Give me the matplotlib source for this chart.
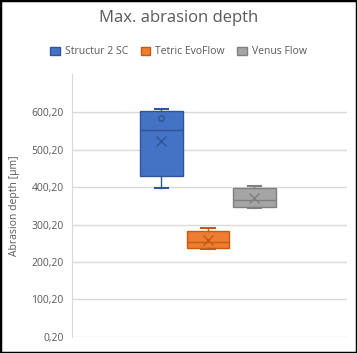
import matplotlib
matplotlib.use("Agg")
import matplotlib.pyplot as plt
from matplotlib.patches import Patch, Rectangle

plt.rcParams['font.family'] = ['Open Sans', 'DejaVu Sans']

# box plot data
series = ["Structur 2 SC", "Tetric EvoFlow", "Venus Flow"]
whis_lo = [399, 236, 345]
q1 = [429, 237, 348]
median = [552, 254, 366]
q3 = [604, 284, 397]
whis_hi = [610, 290, 404]
means = [525, 259, 371]
inner_pts = [[586], [], []]

yticks = [0.2, 100.2, 200.2, 300.2, 400.2, 500.2, 600.2]

face = ["#4472C4", "#ED7D31", "#A5A5A5"]
edge = ["#2F5597", "#C55A11", "#7F7F7F"]
text_col = "#595959"
grid_col = "#D9D9D9"

W, H = 357, 353
fig = plt.figure(figsize=(W / 100, H / 100), dpi=100)
ax = fig.add_axes([72 / W, (H - 336.7) / H, 275 / W, (336.7 - 74) / H])

stats = []
for i in range(len(series)):
    stats.append(dict(med=median[i], q1=q1[i], q3=q3[i], whislo=whis_lo[i],
                      whishi=whis_hi[i], mean=means[i], fliers=[], label=series[i]))

positions = [1, 2, 3]
for i, s in enumerate(stats):
    ax.bxp([s], positions=[positions[i]], widths=0.92, patch_artist=True,
           showmeans=True, showfliers=False,
           boxprops=dict(facecolor=face[i], edgecolor=edge[i], linewidth=1),
           medianprops=dict(color=edge[i], linewidth=1),
           whiskerprops=dict(color=edge[i], linewidth=1),
           capprops=dict(color=edge[i], linewidth=1.5),
           capwidths=0.3,
           meanprops=dict(marker="x", markeredgecolor=edge[i], markersize=7,
                          markeredgewidth=1),
           zorder=3)
    for p in inner_pts[i]:
        ax.plot(positions[i], p, "o", markerfacecolor="none",
                markeredgecolor=edge[i], markersize=4, markeredgewidth=1, zorder=4)

ax.set_xlim(-0.925, 4.99)
ax.set_ylim(0.2, 703)
ax.set_yticks(yticks)
ax.set_yticklabels([f"{v:.2f}".replace(".", ",") for v in yticks])
ax.set_xticks([])
ax.tick_params(axis="y", length=0, colors=text_col, labelsize=7.5, pad=6)
ax.yaxis.grid(True, color=grid_col, linewidth=1)
ax.set_axisbelow(True)
for side in ["top", "right", "bottom"]:
    ax.spines[side].set_visible(False)
ax.spines["left"].set_color(grid_col)
ax.set_ylabel("Abrasion depth [µm]", color=text_col, fontsize=7.5, labelpad=8)

fig.text(0.5, 1 - 18 / H, "Max. abrasion depth", ha="center", va="center",
         fontsize=12, color=text_col)

handles = [Patch(facecolor=face[i], edgecolor=edge[i], label=series[i])
           for i in range(len(series))]
fig.legend(handles=handles, loc="center", bbox_to_anchor=(0.5, 1 - 52 / H),
           ncol=3, frameon=False, fontsize=7.5, labelcolor=text_col,
           handlelength=0.9, handleheight=0.9, handletextpad=0.5, columnspacing=1.2)

fig.patches.append(Rectangle((0, 0), 1, 1, transform=fig.transFigure,
                             fill=False, edgecolor="black", linewidth=2.5))

fig.savefig("out.png", dpi=100)
